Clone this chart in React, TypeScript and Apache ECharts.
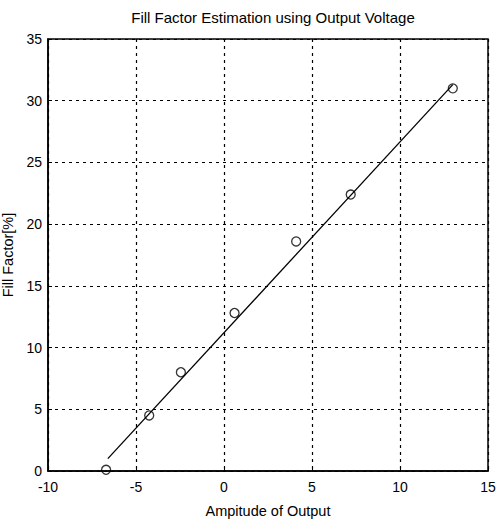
import React, { useEffect, useRef } from "react";
import * as echarts from "echarts";

const titleText = "Fill Factor Estimation using Output Voltage";
const xName = "Ampitude of Output";
const yName = "Fill Factor[%]";

// measured points (amplitude, fill factor)
const amplitude = [-6.7, -4.25, -2.45, 0.6, 4.1, 7.2, 13.0];
const fillFactor = [0.1, 4.5, 8.0, 12.8, 18.6, 22.4, 31.0];

// fitted line endpoints
const fitX = [-6.6, 13.0];
const fitY = [1.0, 31.3];

const FONT = "'Liberation Sans', Arial, sans-serif";

export default function App() {
  const ref = useRef<HTMLDivElement>(null);
  useEffect(() => {
    if (!ref.current) return;
    const chart = echarts.init(ref.current, undefined, { renderer: "svg" });
    const axisCommon = {
      axisLine: { show: true, onZero: false, lineStyle: { color: "#000", width: 1.5 } },
      axisTick: { show: true, inside: true, length: 4, lineStyle: { color: "#000" } },
      splitLine: { show: true, lineStyle: { color: "#000", type: [3, 4], width: 1.2 } },
      axisLabel: { color: "#000", fontSize: 14, fontFamily: FONT },
      nameTextStyle: { color: "#000", fontSize: 14.5, fontFamily: FONT },
    };
    chart.setOption({
      animation: false,
      backgroundColor: "#fff",
      title: {
        text: titleText,
        left: 268,
        top: 5,
        textAlign: "center",
        textStyle: { color: "#000", fontSize: 15, fontWeight: "normal", fontFamily: FONT },
      },
      grid: {
        left: 48,
        right: 8,
        top: 39,
        bottom: 51,
        containLabel: false,
        outerBoundsMode: "none",
        show: true,
        borderColor: "#000",
        borderWidth: 1.5,
        backgroundColor: "transparent",
      },
      xAxis: {
        type: "value",
        min: -10,
        max: 15,
        interval: 5,
        name: xName,
        nameLocation: "middle",
        nameGap: 32,
        ...axisCommon,
        axisLabel: { ...axisCommon.axisLabel, margin: 9 },
      },
      yAxis: {
        type: "value",
        min: 0,
        max: 35,
        interval: 5,
        name: yName,
        nameLocation: "middle",
        nameGap: 27,
        ...axisCommon,
        axisLabel: { ...axisCommon.axisLabel, margin: 6 },
      },
      series: [
        {
          type: "line",
          data: fitX.map((x, i) => [x, fitY[i]]),
          showSymbol: false,
          lineStyle: { color: "#000", width: 1.3 },
          z: 2,
        },
        {
          type: "scatter",
          data: amplitude.map((x, i) => [x, fillFactor[i]]),
          symbol: "circle",
          symbolSize: 9,
          itemStyle: { color: "transparent", borderColor: "#000", borderWidth: 1.3 },
          z: 3,
        },
      ],
    });
    return () => chart.dispose();
  }, []);
  return <div ref={ref} style={{ width: 496, height: 522, position: "absolute", left: 0, top: 0 }} />;
}
